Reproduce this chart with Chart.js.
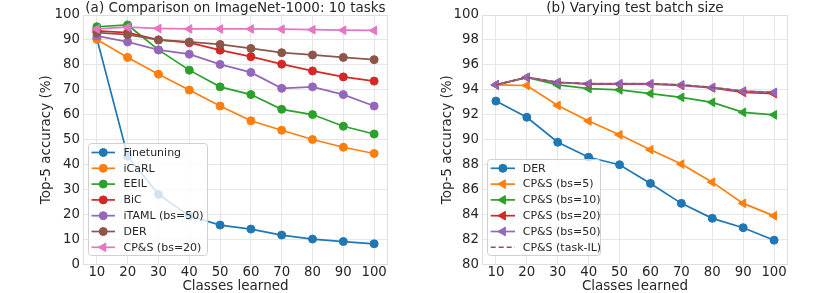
<!DOCTYPE html>
<html><head><meta charset="utf-8">
<script src="https://cdn.jsdelivr.net/npm/chart.js@4.4.1/dist/chart.umd.min.js"></script>
<style>
html,body{margin:0;padding:0;background:#fff;}
#wrap{position:relative;width:830px;height:293px;overflow:hidden;background:#fff;}
.box{position:absolute;top:0;height:293px;width:415px;}
</style></head><body>
<div id="wrap">
<div class="box" style="left:0"><canvas id="c1" width="415" height="293"></canvas></div>
<div class="box" style="left:415px"><canvas id="c2" width="415" height="293"></canvas></div>
</div>
<script>
// ---------- data ----------
const classes = [10, 20, 30, 40, 50, 60, 70, 80, 90, 100];

// (a) Comparison on ImageNet-1000: 10 tasks
const finetuning = [90.6, 43.4, 28.1, 19.5, 15.8, 14.2, 11.8, 10.2, 9.2, 8.3];
const icarl      = [90.2, 83.0, 76.3, 69.9, 63.5, 57.6, 53.8, 50.1, 47.0, 44.5];
const eeil       = [95.3, 96.0, 86.0, 77.9, 71.2, 68.1, 62.2, 60.1, 55.4, 52.3];
const bic        = [93.6, 92.9, 90.0, 88.9, 85.9, 83.3, 80.3, 77.6, 75.2, 73.5];
const itaml      = [91.6, 89.2, 86.0, 84.3, 80.2, 77.0, 70.6, 71.2, 68.1, 63.5];
const derA       = [92.9, 92.1, 90.0, 89.2, 88.2, 86.6, 84.9, 84.0, 83.0, 82.1];
const cpsA       = [94.4, 95.1, 94.6, 94.4, 94.4, 94.4, 94.3, 94.1, 93.9, 93.8];

// (b) Varying test batch size
const derB     = [93.1, 91.8, 89.8, 88.6, 88.0, 86.5, 84.9, 83.7, 82.95, 81.95];
const cpsBs5   = [94.4, 94.35, 92.75, 91.5, 90.4, 89.2, 88.05, 86.6, 84.9, 83.9];
const cpsBs10  = [94.4, 95.0, 94.4, 94.1, 94.0, 93.7, 93.4, 93.0, 92.2, 92.0];
const cpsBs20  = [94.4, 95.0, 94.6, 94.45, 94.45, 94.45, 94.35, 94.15, 93.8, 93.7];
const cpsBs50  = [94.4, 95.0, 94.6, 94.5, 94.5, 94.5, 94.4, 94.2, 93.9, 93.8];
const cpsTask  = [94.4, 95.0, 94.6, 94.5, 94.5, 94.5, 94.4, 94.2, 93.9, 93.8];

const yTicksA = [0, 10, 20, 30, 40, 50, 60, 70, 80, 90, 100];
const yTicksB = [80, 82, 84, 86, 88, 90, 92, 94, 96, 98, 100];

// ---------- styling ----------
const FONT = 'DejaVu Sans';
const TXT = '#262626';
const GRID = '#e6e6e6';
const FRAME = '#dedede';
const C = {blue:'#1f77b4', orange:'#ff7f0e', green:'#2ca02c', red:'#d62728', purple:'#9467bd', brown:'#8c564b', pink:'#e377c2'};

function series(label, data, color, marker, extra) {
  const tri = marker === 'tri';
  return Object.assign({
    label, data: classes.map((c, i) => ({x: c, y: data[i]})),
    borderColor: color, backgroundColor: color,
    pointBackgroundColor: color, pointBorderColor: color,
    borderWidth: 1.7, pointBorderWidth: 1,
    pointRadius: marker === 'none' ? 0 : (tri ? 5 : 4),
    pointStyle: tri ? 'triangle' : 'circle',
    pointRotation: tri ? -90 : 0,
    tension: 0, fill: false
  }, extra || {});
}

const framePlugin = {
  id: 'frame',
  beforeDatasetsDraw(chart) {
    const {ctx, chartArea: a} = chart;
    ctx.save();
    ctx.strokeStyle = FRAME; ctx.lineWidth = 1;
    ctx.strokeRect(Math.round(a.left) + 0.5, Math.round(a.top) + 0.5, Math.round(a.right - a.left) - 1, Math.round(a.bottom - a.top) - 1);
    ctx.restore();
  }
};

function drawMarker(ctx, ds, x, y) {
  if (!ds.pointRadius) return;
  ctx.fillStyle = ds.pointBackgroundColor;
  ctx.strokeStyle = ds.pointBorderColor;
  ctx.lineWidth = 1;
  ctx.setLineDash([]);
  ctx.beginPath();
  const r = ds.pointRadius;
  if (ds.pointStyle === 'triangle') {
    const s = r * Math.sqrt(3) / 2;
    ctx.moveTo(x - r, y);
    ctx.lineTo(x + r / 2, y - s);
    ctx.lineTo(x + r / 2, y + s);
    ctx.closePath();
  } else {
    ctx.arc(x, y, r, 0, Math.PI * 2);
  }
  ctx.fill(); ctx.stroke();
}

const legendPlugin = {
  id: 'boxLegend',
  afterDraw(chart, args, o) {
    const ctx = chart.ctx;
    ctx.save();
    const rr = 3;
    ctx.beginPath();
    ctx.moveTo(o.x + rr, o.y);
    ctx.arcTo(o.x + o.w, o.y, o.x + o.w, o.y + o.h, rr);
    ctx.arcTo(o.x + o.w, o.y + o.h, o.x, o.y + o.h, rr);
    ctx.arcTo(o.x, o.y + o.h, o.x, o.y, rr);
    ctx.arcTo(o.x, o.y, o.x + o.w, o.y, rr);
    ctx.closePath();
    ctx.fillStyle = 'rgba(255,255,255,0.8)';
    ctx.fill();
    ctx.strokeStyle = '#d0d0d0'; ctx.lineWidth = 1;
    ctx.stroke();
    ctx.font = '11px "' + FONT + '"';
    ctx.textBaseline = 'middle';
    ctx.textAlign = 'left';
    chart.data.datasets.forEach((ds, i) => {
      const cy = o.y0 + i * o.step;
      ctx.strokeStyle = ds.borderColor;
      ctx.lineWidth = ds.borderWidth;
      ctx.setLineDash(ds.borderDash || []);
      ctx.beginPath();
      ctx.moveTo(o.lx1, cy); ctx.lineTo(o.lx2, cy);
      ctx.stroke();
      drawMarker(ctx, ds, (o.lx1 + o.lx2) / 2, cy);
      ctx.fillStyle = TXT;
      ctx.fillText(ds.label, o.tx, cy + 0.5);
    });
    ctx.restore();
  }
};

function makeChart(id, datasets, cfg) {
  const n = datasets.length;
  datasets.forEach((d, i) => d.order = n - i);
  return new Chart(document.getElementById(id), {
    type: 'line',
    data: {datasets},
    plugins: [framePlugin, legendPlugin],
    options: {
      responsive: false, animation: false, events: [],
      layout: {padding: {left: 0, right: cfg.padRight, top: 0, bottom: 0}},
      plugins: {
        legend: {display: false}, tooltip: {enabled: false},
        title: {display: true, text: cfg.title, fullSize: false, color: TXT,
                font: {family: FONT, size: 13.5, weight: 'normal', lineHeight: 1.0},
                padding: {top: 1.5, bottom: 0}},
        boxLegend: cfg.legend
      },
      scales: {
        x: {
          type: 'linear', min: 5.5, max: 104.5,
          afterBuildTicks: s => { s.ticks = classes.map(v => ({value: v})); },
          afterFit: s => { s.height = 28.5; },
          grid: {color: GRID, drawTicks: false, lineWidth: 1},
          border: {display: false},
          ticks: {color: TXT, font: {family: FONT, size: 13.3}, padding: 0, maxRotation: 0, autoSkip: false},
          title: {display: true, text: 'Classes learned', color: TXT,
                  font: {family: FONT, size: 13.5, lineHeight: 1.0}, padding: {top: 0, bottom: 0}}
        },
        y: {
          type: 'linear', min: cfg.yTicks[0], max: cfg.yTicks[cfg.yTicks.length - 1],
          afterBuildTicks: s => { s.ticks = cfg.yTicks.map(v => ({value: v})); },
          afterFit: s => { s.width = cfg.yWidth; },
          grid: {color: GRID, drawTicks: false, lineWidth: 1},
          border: {display: false},
          ticks: {color: TXT, font: {family: FONT, size: 13.3}, padding: 3},
          title: {display: true, text: 'Top-5 accuracy (%)', color: TXT,
                  font: {family: FONT, size: 13.5, lineHeight: 1.2}, padding: {top: cfg.yTitlePad, bottom: 0}}
        }
      }
    }
  });
}

makeChart('c1', [
  series('Finetuning', finetuning, C.blue, 'circle'),
  series('iCaRL', icarl, C.orange, 'circle'),
  series('EEIL', eeil, C.green, 'circle'),
  series('BiC', bic, C.red, 'circle'),
  series('iTAML (bs=50)', itaml, C.purple, 'circle'),
  series('DER', derA, C.brown, 'circle'),
  series('CP&S (bs=20)', cpsA, C.pink, 'tri')
], {
  title: '(a) Comparison on ImageNet-1000: 10 tasks',
  padRight: 27, yWidth: 83, yTitlePad: 38.5, yTicks: yTicksA,
  legend: {x: 88.5, y: 143.5, w: 119, h: 112, y0: 152.5, step: 15.8, lx1: 91.5, lx2: 115, tx: 123.5}
});

makeChart('c2', [
  series('DER', derB, C.blue, 'circle'),
  series('CP&S (bs=5)', cpsBs5, C.orange, 'tri'),
  series('CP&S (bs=10)', cpsBs10, C.green, 'tri'),
  series('CP&S (bs=20)', cpsBs20, C.red, 'tri'),
  series('CP&S (bs=50)', cpsBs50, C.purple, 'tri'),
  series('CP&S (task-IL)', cpsTask, C.brown, 'none', {borderDash: [5, 3], borderWidth: 1.4})
], {
  title: '(b) Varying test batch size',
  padRight: 42, yWidth: 67, yTitlePad: 24.5, yTicks: yTicksB,
  legend: {x: 72.5, y: 159.5, w: 113, h: 96, y0: 168.3, step: 15.8, lx1: 75.7, lx2: 100, tx: 107.7}
});
</script>
</body></html>
